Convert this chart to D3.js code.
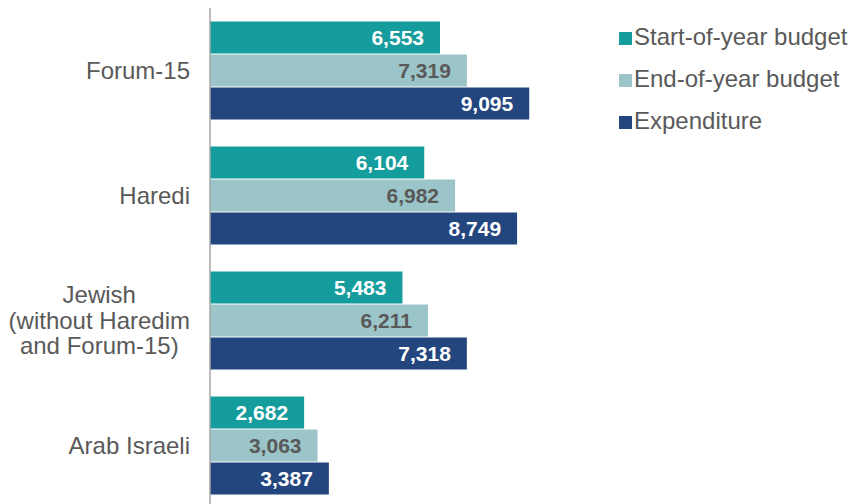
<!DOCTYPE html>
<html>
<head>
<meta charset="utf-8">
<script src="https://cdn.jsdelivr.net/npm/d3@7"></script>
<style>
  html, body { margin: 0; padding: 0; background: #fff; }
  svg { display: block; font-family: Arial, "Liberation Sans", sans-serif; }
</style>
</head>
<body>
<svg id="chart" width="855" height="504"></svg>
<script>
// Sector groups (top to bottom), label lines for each
const categories = ["Forum-15", "Haredi", "Jewish", "Arab Israeli"];
const categoryLines = [
  ["Forum-15"],
  ["Haredi"],
  ["Jewish", "(without Haredim", "and Forum-15)"],
  ["Arab Israeli"]
];
const seriesNames = ["Start-of-year budget", "End-of-year budget", "Expenditure"];
const startOfYear = [6553, 6104, 5483, 2682];
const endOfYear   = [7319, 6982, 6211, 3063];
const expenditure = [9095, 8749, 7318, 3387];

const colors = ["#159c9c", "#9bc5c8", "#24467e"];
const labelColors = ["#ffffff", "#595959", "#ffffff"];
const seriesValues = [startOfYear, endOfYear, expenditure];

const svg = d3.select("#chart");

const x = d3.scaleLinear().domain([0, 10000]).range([210, 561]);
const y = d3.scaleBand().domain(categories).range([8, 508]).paddingInner(0.208).paddingOuter(0.104);
const ySub = d3.scaleBand().domain(seriesNames).range([0, y.bandwidth()]);

// Bars with value labels inside their ends
const groups = svg.selectAll("g.grp").data(categories).join("g")
  .attr("class", "grp")
  .attr("transform", d => `translate(0,${y(d)})`);

seriesNames.forEach((s, si) => {
  groups.append("rect")
    .attr("x", x(0))
    .attr("y", ySub(s) + 0.5)
    .attr("width", (d, i) => x(seriesValues[si][i]) - x(0))
    .attr("height", ySub.bandwidth() - 1)
    .attr("fill", colors[si]);

  groups.append("text")
    .attr("x", (d, i) => x(seriesValues[si][i]) - 16)
    .attr("y", ySub(s) + ySub.bandwidth() / 2)
    .attr("dy", "0.35em")
    .attr("text-anchor", "end")
    .attr("font-size", 21)
    .attr("font-weight", "bold")
    .attr("fill", labelColors[si])
    .text((d, i) => d3.format(",")(seriesValues[si][i]));
});

// Vertical axis line
svg.append("line")
  .attr("x1", x(0)).attr("x2", x(0))
  .attr("y1", 8).attr("y2", 504)
  .attr("stroke", "#a6a6a6").attr("stroke-width", 1.5);

// Category labels: block right-aligned to the axis, lines centred within it
const lineH = 25.5;
const labelRight = 190;
categories.forEach((c, i) => {
  const lines = categoryLines[i];
  const cy = y(c) + y.bandwidth() / 2;
  const t = svg.append("text")
    .attr("text-anchor", "middle")
    .attr("font-size", 24)
    .attr("fill", "#595959");
  const spans = lines.map((ln, li) => t.append("tspan")
    .attr("y", cy + (li - (lines.length - 1) / 2) * lineH)
    .attr("dy", "0.35em")
    .text(ln));
  const maxW = d3.max(spans, sp => sp.node().getComputedTextLength());
  spans.forEach(sp => sp.attr("x", labelRight - maxW / 2));
});

// Legend
const legend = svg.append("g");
seriesNames.forEach((s, i) => {
  const base = 45 + i * 42;
  legend.append("rect")
    .attr("x", 619).attr("y", base - 13)
    .attr("width", 13).attr("height", 13)
    .attr("fill", colors[i]);
  legend.append("text")
    .attr("x", 634).attr("y", base)
    .attr("font-size", 24)
    .attr("fill", "#595959")
    .text(s);
});
</script>
</body>
</html>
